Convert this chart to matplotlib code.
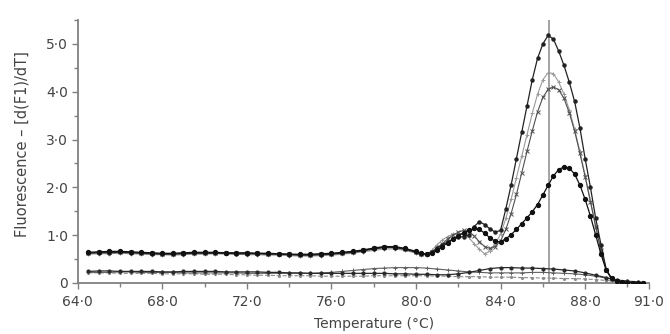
import numpy as np
import matplotlib
matplotlib.use("Agg")
import matplotlib.pyplot as plt
from matplotlib.ticker import MultipleLocator, FixedLocator

plt.rcParams['font.family'] = ['DejaVu Sans']

# sampling grids (deg C)
temp_flat = np.arange(64.5, 80.0, 0.5)
temp_melt = np.arange(80.0, 91.0, 0.25)
temp_ntc = np.arange(64.5, 91.0, 0.5)

# -d(F1)/dT, amplified samples
a_flat = [0.62, 0.63, 0.63, 0.64, 0.63, 0.62, 0.61, 0.60, 0.60, 0.61,
          0.62, 0.62, 0.62, 0.62, 0.61, 0.61, 0.61, 0.60, 0.60, 0.59,
          0.58, 0.58, 0.59, 0.60, 0.62, 0.64, 0.67, 0.71, 0.74, 0.74, 0.70]
a_melt = [0.64, 0.60, 0.60, 0.65, 0.73, 0.80, 0.86, 0.91, 0.95, 0.97,
          1.00, 1.18, 1.28, 1.22, 1.13, 1.06, 1.10, 1.55, 2.05, 2.60,
          3.15, 3.70, 4.25, 4.70, 5.00, 5.18, 5.10, 4.85, 4.55, 4.20,
          3.80, 3.25, 2.60, 2.00, 1.35, 0.80, 0.28, 0.08, 0.03, 0.01,
          0.00, 0.00, 0.00, 0.00]

b_flat = [0.60, 0.61, 0.61, 0.62, 0.61, 0.60, 0.59, 0.59, 0.58, 0.59,
          0.60, 0.60, 0.61, 0.60, 0.60, 0.59, 0.59, 0.58, 0.58, 0.57,
          0.56, 0.56, 0.57, 0.58, 0.60, 0.62, 0.65, 0.68, 0.71, 0.71, 0.68]
b_melt = [0.62, 0.58, 0.59, 0.68, 0.80, 0.90, 0.97, 1.02, 1.04, 1.00,
          0.95, 0.82, 0.70, 0.61, 0.66, 0.82, 1.02, 1.35, 1.75, 2.20,
          2.65, 3.10, 3.55, 3.95, 4.25, 4.40, 4.38, 4.20, 3.95, 3.62,
          3.22, 2.75, 2.25, 1.72, 1.18, 0.68, 0.28, 0.09, 0.03, 0.01,
          0.00, 0.00, 0.00, 0.00]

c_flat = [0.63, 0.64, 0.64, 0.65, 0.64, 0.63, 0.62, 0.61, 0.61, 0.62,
          0.63, 0.63, 0.63, 0.63, 0.62, 0.62, 0.62, 0.61, 0.61, 0.60,
          0.59, 0.59, 0.60, 0.61, 0.63, 0.65, 0.68, 0.72, 0.75, 0.75, 0.71]
c_melt = [0.65, 0.61, 0.60, 0.64, 0.72, 0.82, 0.92, 1.00, 1.06, 1.10,
          1.08, 0.98, 0.86, 0.76, 0.72, 0.76, 0.88, 1.12, 1.45, 1.85,
          2.30, 2.75, 3.18, 3.58, 3.88, 4.05, 4.10, 4.04, 3.86, 3.56,
          3.18, 2.72, 2.22, 1.70, 1.18, 0.68, 0.28, 0.09, 0.03, 0.01,
          0.00, 0.00, 0.00, 0.00]

d_flat = [0.64, 0.65, 0.66, 0.66, 0.65, 0.64, 0.63, 0.62, 0.62, 0.63,
          0.64, 0.64, 0.64, 0.63, 0.63, 0.63, 0.62, 0.62, 0.61, 0.60,
          0.60, 0.60, 0.61, 0.62, 0.64, 0.66, 0.69, 0.73, 0.76, 0.76, 0.72]
d_melt = [0.66, 0.62, 0.60, 0.62, 0.68, 0.76, 0.84, 0.92, 0.99, 1.05,
          1.10, 1.14, 1.12, 1.04, 0.94, 0.87, 0.86, 0.92, 1.01, 1.12,
          1.24, 1.36, 1.49, 1.64, 1.84, 2.04, 2.24, 2.37, 2.43, 2.40,
          2.28, 2.05, 1.75, 1.40, 1.00, 0.60, 0.26, 0.10, 0.04, 0.01,
          0.00, 0.00, 0.00, 0.00]

# no-template controls
ntc1 = [0.24, 0.25, 0.25, 0.24, 0.24, 0.24, 0.24, 0.23, 0.23, 0.24,
        0.24, 0.24, 0.24, 0.23, 0.23, 0.23, 0.23, 0.22, 0.22, 0.21,
        0.21, 0.20, 0.20, 0.20, 0.20, 0.20, 0.20, 0.20, 0.20, 0.19,
        0.19, 0.18, 0.18, 0.17, 0.17, 0.19, 0.22, 0.26, 0.30, 0.32,
        0.32, 0.31, 0.31, 0.30, 0.29, 0.27, 0.25, 0.21, 0.16, 0.11,
        0.06, 0.03, 0.01]
ntc2 = [0.22, 0.22, 0.22, 0.23, 0.23, 0.22, 0.22, 0.22, 0.22, 0.21,
        0.21, 0.21, 0.21, 0.21, 0.21, 0.20, 0.20, 0.20, 0.20, 0.20,
        0.20, 0.20, 0.21, 0.22, 0.24, 0.26, 0.28, 0.30, 0.31, 0.32,
        0.32, 0.32, 0.31, 0.29, 0.27, 0.25, 0.23, 0.22, 0.21, 0.21,
        0.21, 0.21, 0.22, 0.22, 0.21, 0.20, 0.19, 0.17, 0.14, 0.10,
        0.06, 0.04, 0.02]
ntc3 = [0.21, 0.21, 0.21, 0.20, 0.20, 0.20, 0.20, 0.19, 0.19, 0.19,
        0.19, 0.18, 0.18, 0.18, 0.17, 0.17, 0.16, 0.16, 0.15, 0.15,
        0.15, 0.15, 0.14, 0.14, 0.14, 0.14, 0.14, 0.15, 0.15, 0.15,
        0.15, 0.15, 0.15, 0.14, 0.14, 0.13, 0.13, 0.13, 0.12, 0.12,
        0.12, 0.11, 0.11, 0.10, 0.10, 0.09, 0.09, 0.08, 0.07, 0.05,
        0.04, 0.03, 0.02]

tm_line = 86.3
x_ticks = [64, 68, 72, 76, 80, 84, 88, 91]
x_labels = ['64·0', '68·0', '72·0', '76·0', '80·0', '84·0', '88·0', '91·0']
y_ticks = [0, 1, 2, 3, 4, 5]
y_labels = ['0', '1·0', '2·0', '3·0', '4·0', '5·0']

temp_all = np.concatenate([temp_flat, temp_melt])
txt = '#444444'
axis_col = '#808080'

fig = plt.figure(figsize=(6.7, 3.34), dpi=100)
ax = fig.add_axes([0.116, 0.153, 0.852, 0.787])

ax.axvline(tm_line, color='#8a8a8a', lw=1.1, zorder=1)

ax.plot(temp_ntc, ntc3, color='#8c8c8c', lw=0.8, ls='--', marker='.', ms=2.5, zorder=2)
ax.plot(temp_ntc, ntc2, color='#606060', lw=0.8, marker='+', ms=3.5, mew=0.7, zorder=2)
ax.plot(temp_ntc, ntc1, color='#2a2a2a', lw=0.9, marker='.', ms=4, zorder=2)

ax.plot(temp_all, b_flat + b_melt, color='#9a9a9a', lw=0.8, marker='+', ms=3.5, mew=0.7, zorder=3)
ax.plot(temp_all, c_flat + c_melt, color='#505050', lw=0.8, marker='x', ms=2.5, mew=0.7, zorder=3)
ax.plot(temp_all, a_flat + a_melt, color='#222222', lw=0.9, marker='o', ms=2.2, zorder=4)
ax.plot(temp_all, d_flat + d_melt, color='#111111', lw=0.9, marker='o', ms=2.8, zorder=4)

ax.set_xlim(64, 91)
ax.set_ylim(0, 5.5)
for s in ['top', 'right']:
    ax.spines[s].set_visible(False)
for s in ['left', 'bottom']:
    ax.spines[s].set_color(axis_col)
    ax.spines[s].set_linewidth(1.3)

ax.xaxis.set_major_locator(FixedLocator(x_ticks))
ax.xaxis.set_minor_locator(FixedLocator([66, 70, 74, 78, 82, 86, 90]))
ax.set_xticklabels(x_labels)
ax.yaxis.set_major_locator(FixedLocator(y_ticks))
ax.yaxis.set_minor_locator(MultipleLocator(0.5))
ax.set_yticklabels(y_labels)

ax.tick_params(which='both', direction='out', color=axis_col, width=1.0,
               labelcolor=txt, labelsize=10)
ax.tick_params(which='major', length=4)
ax.tick_params(axis='x', which='major', pad=5)
ax.tick_params(axis='y', which='major', pad=3)
ax.tick_params(which='minor', length=3)

ax.set_xlabel('Temperature (°C)', fontsize=10, color=txt)
ax.xaxis.set_label_coords(0.52, -0.13)
ax.set_ylabel('Fluorescence – [d(F1)/dT]', fontsize=10.5, color=txt)
ax.yaxis.set_label_coords(-0.085, 0.53)

fig.savefig('out.png', dpi=100)
